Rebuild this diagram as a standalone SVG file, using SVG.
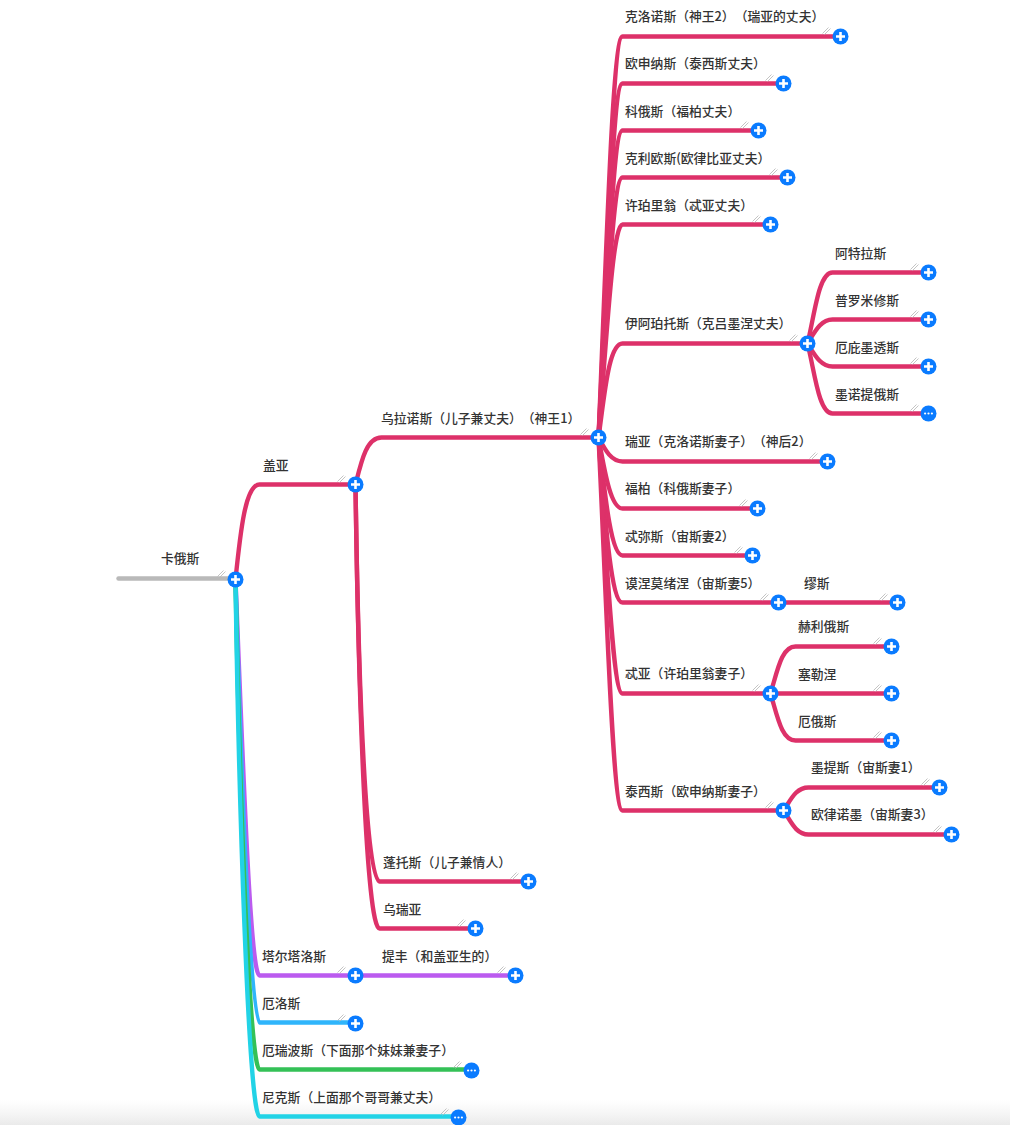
<svg xmlns="http://www.w3.org/2000/svg" xmlns:xlink="http://www.w3.org/1999/xlink" width="1010" height="1125" viewBox="0 0 1010 1125">
<style>
text{font-family:"Noto Sans CJK SC","Noto Sans",sans-serif;font-size:12.8px;fill:#333;font-weight:500;font-feature-settings:"chws" 0,"palt" 0,"halt" 0;text-spacing-trim:space-all}
.c{fill:none;stroke-width:4.4;stroke-linecap:round;stroke-linejoin:round}
.r{stroke:#dd3169}.g{stroke:#b9b9b9}.p{stroke:#bb5bef}.b{stroke:#2fb5fb}.n{stroke:#34c157}.y{stroke:#22d3e6}
.h{stroke:#b5b5b5;stroke-width:.8;fill:none}
.bg{fill:#0a7bff}
</style>
<defs>
<linearGradient id="fade" x1="0" y1="0" x2="0" y2="1"><stop offset="0" stop-color="#f0f0f0" stop-opacity="0"/><stop offset="1" stop-color="#eaeaea"/></linearGradient>
<g id="plus" transform="translate(.5 .5)"><path class="h" d="M-18,-3L-12,-9M-16,-2L-10,-8"/><circle class="bg" r="8"/><path d="M-4.5,0H4.5M0,-4.5V4.5" stroke="#fff" stroke-width="2.6"/></g>
<g id="more" transform="translate(.5 .5)"><path class="h" d="M-18,-3L-12,-9M-16,-2L-10,-8"/><circle class="bg" r="8"/><circle cx="-3.4" r="1.1" fill="#fff"/><circle r="1.1" fill="#fff"/><circle cx="3.4" r="1.1" fill="#fff"/></g>
</defs>
<rect x="0" y="1100" width="1010" height="25" fill="url(#fade)"/>
<g id="connectors" transform="translate(.5 .5)">
<path class="c p" d="M235,579C243,780 250,975 259,975H515"/>
<path class="c b" d="M235,579C241,790 250,1022 259,1022H355"/>
<path class="c n" d="M235,579C239,790 249,1069 259,1069H470"/>
<path class="c y" d="M235,579C238,790 248,1116 259,1116H458"/>
<path class="c g" d="M118,578H235"/>
<path class="c r" d="M235,579C240,530 245,484 259,484H355"/>
<path class="c r" d="M355,484C361,460 366,437 381,437H598"/>
<path class="c r" d="M355,484C358,700 366,881 379,881H528"/>
<path class="c r" d="M355,484C358,700 366,928 379,928H475"/>
<path class="c r" d="M598,437C606,250 612,36 622,36H840"/>
<path class="c r" d="M598,437C606,280 612,83 622,83H783"/>
<path class="c r" d="M598,437C606,300 612,130 622,130H758"/>
<path class="c r" d="M598,437C606,320 612,177 622,177H787"/>
<path class="c r" d="M598,437C606,340 612,224 622,224H770"/>
<path class="c r" d="M598,437C604,395 608,343 622,343H807"/>
<path class="c r" d="M598,437C604,448 610,461 622,461H827"/>
<path class="c r" d="M598,437C604,470 610,508 622,508H757"/>
<path class="c r" d="M598,437C604,490 610,555 622,555H752"/>
<path class="c r" d="M598,437C604,510 610,602 622,602H897"/>
<path class="c r" d="M598,437C606,550 612,693 622,693H770"/>
<path class="c r" d="M598,437C606,600 612,810 622,810H783"/>
<path class="c r" d="M807,343C814,315 818,272 832,272H928"/>
<path class="c r" d="M807,343C814,332 820,319 832,319H928"/>
<path class="c r" d="M807,343C814,354 820,366 832,366H928"/>
<path class="c r" d="M807,343C814,370 818,413 832,413H928"/>
<path class="c r" d="M770,693C777,670 781,646 795,646H891"/>
<path class="c r" d="M770,693H891"/>
<path class="c r" d="M770,693C777,716 781,740 795,740H891"/>
<path class="c r" d="M783,810C790,800 795,787 808,787H939"/>
<path class="c r" d="M783,810C790,820 795,834 808,834H951"/>
</g>
<g id="n-chaos"><text x="161" y="563">卡俄斯</text><use href="#plus" x="235" y="579"/></g>
<g id="n-gaia"><text x="263" y="470">盖亚</text><use href="#plus" x="355" y="484"/></g>
<g id="n-uranus"><text x="381" y="423">乌拉诺斯（儿子兼丈夫）（神王1）</text><use href="#plus" x="598" y="437"/></g>
<g id="n-cronus"><text x="625" y="21">克洛诺斯（神王2）（瑞亚的丈夫）</text><use href="#plus" x="840" y="36"/></g>
<g id="n-oceanus"><text x="625" y="68">欧申纳斯（泰西斯丈夫）</text><use href="#plus" x="783" y="83"/></g>
<g id="n-coeus"><text x="625" y="116">科俄斯（福柏丈夫）</text><use href="#plus" x="758" y="130"/></g>
<g id="n-crius"><text x="625" y="163">克利欧斯(欧律比亚丈夫）</text><use href="#plus" x="787" y="177"/></g>
<g id="n-hyperion"><text x="625" y="210">许珀里翁（忒亚丈夫）</text><use href="#plus" x="770" y="224"/></g>
<g id="n-iapetus"><text x="625" y="328">伊阿珀托斯（克吕墨涅丈夫）</text><use href="#plus" x="807" y="343"/></g>
<g id="n-atlas"><text x="835" y="258">阿特拉斯</text><use href="#plus" x="928" y="272"/></g>
<g id="n-prometheus"><text x="835" y="305">普罗米修斯</text><use href="#plus" x="928" y="319"/></g>
<g id="n-epimetheus"><text x="835" y="352">厄庇墨透斯</text><use href="#plus" x="928" y="366"/></g>
<g id="n-menoetius"><text x="835" y="399">墨诺提俄斯</text><use href="#more" x="928" y="413"/></g>
<g id="n-rhea"><text x="625" y="446">瑞亚（克洛诺斯妻子）（神后2）</text><use href="#plus" x="827" y="461"/></g>
<g id="n-phoebe"><text x="625" y="493">福柏（科俄斯妻子）</text><use href="#plus" x="757" y="508"/></g>
<g id="n-themis"><text x="625" y="541">忒弥斯（宙斯妻2）</text><use href="#plus" x="752" y="555"/></g>
<g id="n-mnemosyne"><text x="625" y="588">谟涅莫绪涅（宙斯妻5）</text><use href="#plus" x="778" y="602"/></g>
<g id="n-muses"><text x="804" y="588">缪斯</text><use href="#plus" x="897" y="602"/></g>
<g id="n-theia"><text x="625" y="678">忒亚（许珀里翁妻子）</text><use href="#plus" x="770" y="693"/></g>
<g id="n-helios"><text x="798" y="631">赫利俄斯</text><use href="#plus" x="891" y="646"/></g>
<g id="n-selene"><text x="798" y="679">塞勒涅</text><use href="#plus" x="891" y="693"/></g>
<g id="n-eos"><text x="798" y="726">厄俄斯</text><use href="#plus" x="891" y="740"/></g>
<g id="n-tethys"><text x="625" y="796">泰西斯（欧申纳斯妻子）</text><use href="#plus" x="783" y="810"/></g>
<g id="n-metis"><text x="811" y="772">墨提斯（宙斯妻1）</text><use href="#plus" x="939" y="787"/></g>
<g id="n-eurynome"><text x="811" y="819">欧律诺墨（宙斯妻3）</text><use href="#plus" x="951" y="834"/></g>
<g id="n-pontus"><text x="383" y="867">蓬托斯（儿子兼情人）</text><use href="#plus" x="528" y="881"/></g>
<g id="n-ourea"><text x="383" y="914">乌瑞亚</text><use href="#plus" x="475" y="928"/></g>
<g id="n-tartarus"><text x="262" y="961">塔尔塔洛斯</text><use href="#plus" x="355" y="975"/></g>
<g id="n-typhon"><text x="382" y="961">提丰（和盖亚生的）</text><use href="#plus" x="515" y="975"/></g>
<g id="n-eros"><text x="262" y="1008">厄洛斯</text><use href="#plus" x="355" y="1023"/></g>
<g id="n-erebus"><text x="262" y="1055">厄瑞波斯（下面那个妹妹兼妻子）</text><use href="#more" x="471" y="1070"/></g>
<g id="n-nyx"><text x="262" y="1102">尼克斯（上面那个哥哥兼丈夫）</text><use href="#more" x="458" y="1117"/></g>
</svg>
